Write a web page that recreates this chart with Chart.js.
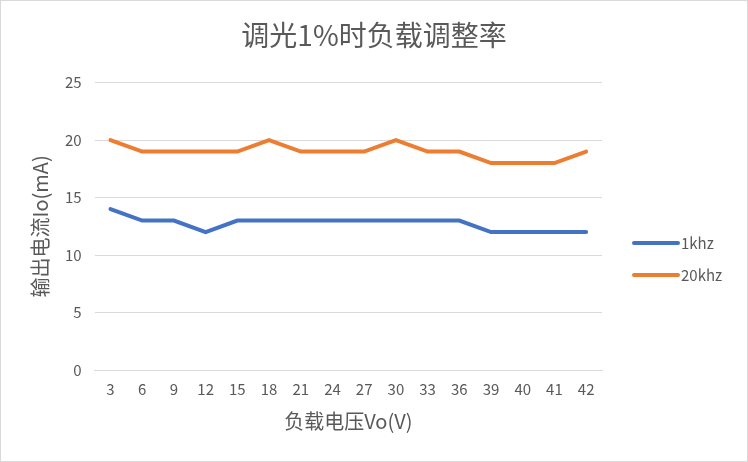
<!DOCTYPE html>
<html>
<head>
<meta charset="utf-8">
<script src="https://cdn.jsdelivr.net/npm/chart.js@4/dist/chart.umd.min.js"></script>
<style>
  html, body { margin: 0; padding: 0; background: #fff; }
  #wrap { width: 748px; height: 462px; position: relative; }
</style>
</head>
<body>
<div id="wrap"><canvas id="chart" width="748" height="462"></canvas></div>
<script>
// chart data
var voltages = ["3", "6", "9", "12", "15", "18", "21", "24", "27", "30", "33", "36", "39", "40", "41", "42"];
var io1khz = [14, 13, 13, 12, 13, 13, 13, 13, 13, 13, 13, 13, 12, 12, 12, 12];
var io20khz = [20, 19, 19, 19, 19, 20, 19, 19, 19, 20, 19, 19, 18, 18, 18, 19];
var yTicks = [0, 5, 10, 15, 20, 25];

var fontFamily = "'Noto Sans CJK SC', 'Noto Sans', sans-serif";
var textColor = "#595959";

// thin grey frame round the whole picture, like the Excel chart border
var framePlugin = {
  id: "frame",
  beforeDraw: function(chart) {
    var ctx = chart.ctx;
    ctx.save();
    ctx.fillStyle = "#fff";
    ctx.fillRect(0, 0, chart.width, chart.height);
    ctx.restore();
  },
  afterDraw: function(chart) {
    var ctx = chart.ctx;
    ctx.save();
    ctx.strokeStyle = "#d9d9d9";
    ctx.lineWidth = 1;
    ctx.strokeRect(0.5, 0.5, chart.width - 1, chart.height - 1);
    ctx.restore();
  }
};

// legend drawn as a rounded line sample followed by its label
var legendPlugin = {
  id: "lineLegend",
  afterDraw: function(chart) {
    var ctx = chart.ctx;
    var x0 = chart.chartArea.right + 32;
    var ys = [243, 275];
    ctx.save();
    chart.data.datasets.forEach(function(ds, i) {
      ctx.strokeStyle = ds.borderColor;
      ctx.lineWidth = 4;
      ctx.lineCap = "round";
      ctx.beginPath();
      ctx.moveTo(x0, ys[i]);
      ctx.lineTo(x0 + 44, ys[i]);
      ctx.stroke();
      ctx.fillStyle = textColor;
      ctx.font = "15px " + fontFamily;
      ctx.textBaseline = "middle";
      ctx.textAlign = "left";
      ctx.fillText(ds.label, x0 + 47, ys[i]);
    });
    ctx.restore();
  }
};

new Chart(document.getElementById("chart"), {
  type: "line",
  data: {
    labels: voltages,
    datasets: [
      {
        label: "1khz",
        data: io1khz,
        borderColor: "#4472C4",
        backgroundColor: "#4472C4",
        borderWidth: 4,
        pointRadius: 0,
        borderCapStyle: "round",
        tension: 0
      },
      {
        label: "20khz",
        data: io20khz,
        borderColor: "#ED7D31",
        backgroundColor: "#ED7D31",
        borderWidth: 4,
        pointRadius: 0,
        borderCapStyle: "round",
        tension: 0
      }
    ]
  },
  options: {
    responsive: false,
    animation: false,
    devicePixelRatio: 1,
    layout: {
      padding: { left: 14, right: 14, top: 14, bottom: 29 }
    },
    plugins: {
      legend: { display: false },
      tooltip: { enabled: false },
      title: {
        display: true,
        text: "调光1%时负载调整率",
        color: textColor,
        font: { family: fontFamily, size: 28, weight: "normal" },
        padding: { top: 5, bottom: 30 }
      }
    },
    scales: {
      x: {
        offset: true,
        grid: { display: false, drawTicks: false },
        border: { display: true, color: "#d9d9d9", width: 1 },
        ticks: {
          color: textColor,
          font: { family: fontFamily, size: 15 },
          padding: 10,
          maxRotation: 0,
          autoSkip: false
        },
        title: {
          display: true,
          text: "负载电压Vo(V)",
          color: textColor,
          font: { family: fontFamily, size: 20 },
          padding: { top: 1, bottom: 0 }
        }
      },
      y: {
        min: yTicks[0],
        max: yTicks[yTicks.length - 1],
        afterBuildTicks: function(axis) {
          axis.ticks = yTicks.map(function(v) { return { value: v }; });
        },
        grid: { color: "#d9d9d9", drawTicks: false },
        border: { display: false },
        ticks: {
          color: textColor,
          font: { family: fontFamily, size: 15 },
          padding: 13
        },
        title: {
          display: true,
          text: "输出电流Io(mA)",
          color: textColor,
          font: { family: fontFamily, size: 20 },
          padding: { top: 14, bottom: 0 }
        }
      },
      // empty axis on the right that only reserves room for the legend
      legendRoom: {
        type: "linear",
        position: "right",
        display: true,
        grid: { display: false, drawTicks: false },
        border: { display: false },
        ticks: { display: false },
        afterFit: function(axis) {
          axis.width = 132;
        }
      }
    }
  },
  plugins: [framePlugin, legendPlugin]
});
</script>
</body>
</html>
